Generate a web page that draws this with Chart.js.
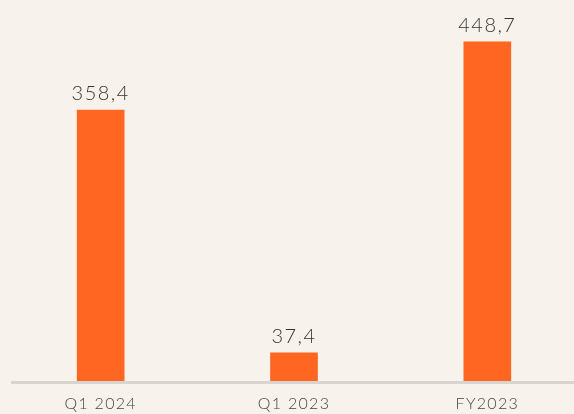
<!DOCTYPE html>
<html>
<head>
<meta charset="utf-8">
<script src="https://cdn.jsdelivr.net/npm/chart.js@4"></script>
<style>
html,body{margin:0;padding:0;background:#f7f3ec;overflow:hidden;}
#wrap{width:584px;height:414px;position:relative;}
</style>
</head>
<body>
<div id="wrap"><canvas id="c"></canvas></div>
<script>
const categories = ["Q1 2024", "Q1 2023", "FY2023"];
const values = [358.4, 37.4, 448.7];
const valueLabels = ["358,4", "37,4", "448,7"];

const spacingPlugin = {
  id: 'spacing',
  beforeDraw(chart) { chart.ctx.letterSpacing = '1.3px'; },
  afterDraw(chart) { chart.ctx.letterSpacing = '0px'; }
};

const axisLinePlugin = {
  id: 'axisLine',
  afterDatasetsDraw(chart) {
    const ctx = chart.ctx;
    const y = chart.chartArea.bottom + 1.5;
    ctx.save();
    ctx.strokeStyle = 'rgba(210,207,203,0.85)';
    ctx.lineWidth = 3;
    ctx.beginPath();
    ctx.moveTo(11, y);
    ctx.lineTo(chart.width, y);
    ctx.stroke();
    ctx.restore();
  }
};

const labelPlugin = {
  id: 'valueLabels',
  afterDatasetsDraw(chart) {
    const ctx = chart.ctx;
    const meta = chart.getDatasetMeta(0);
    ctx.save();
    ctx.letterSpacing = '1.5px';
    ctx.fillStyle = '#353535';
    ctx.font = '300 20px Lato, "DejaVu Sans", sans-serif';
    ctx.textAlign = 'center';
    ctx.textBaseline = 'alphabetic';
    meta.data.forEach((bar, i) => {
      ctx.fillText(valueLabels[i], bar.x, bar.y - 10);
    });
    ctx.restore();
  }
};

new Chart(document.getElementById('c'), {
  type: 'bar',
  data: {
    labels: categories,
    datasets: [{
      data: values,
      backgroundColor: '#ff6622',
      barThickness: 47
    }]
  },
  options: {
    responsive: true,
    maintainAspectRatio: false,
    animation: false,
    layout: { padding: { left: 4, right: 0, top: 3, bottom: 0 } },
    plugins: { legend: { display: false }, tooltip: { enabled: false } },
    scales: {
      x: {
        grid: { display: false, drawTicks: false },
        border: { display: false },
        ticks: { color: '#444', font: { family: 'Lato, "DejaVu Sans", sans-serif', size: 16, weight: 300 }, padding: 13 },
        afterFit(scale) { scale.height = 33; }
      },
      y: {
        display: false,
        min: 0,
        max: 500
      }
    }
  },
  plugins: [spacingPlugin, labelPlugin, axisLinePlugin]
});
</script>
</body>
</html>
